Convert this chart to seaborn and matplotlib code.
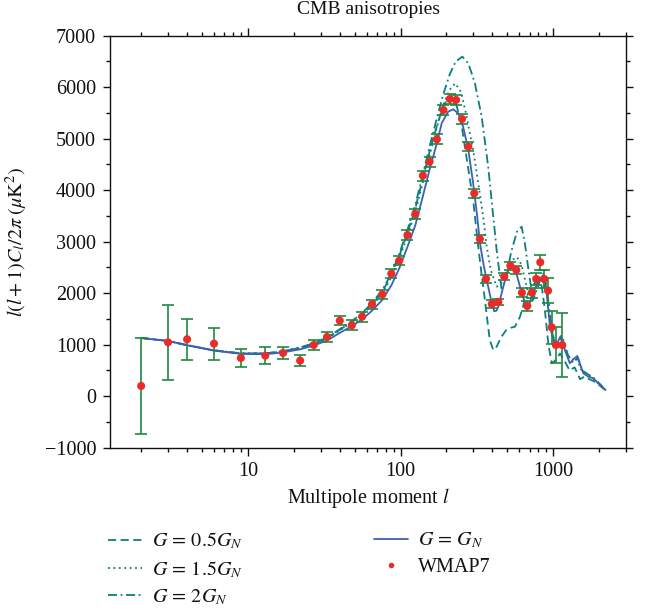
import numpy as np
import pandas as pd
import matplotlib
matplotlib.use("Agg")
import matplotlib.pyplot as plt
import seaborn as sns
from matplotlib.ticker import FixedLocator, FixedFormatter, NullFormatter, MultipleLocator, LogLocator
from matplotlib.lines import Line2D

# ---------------- data ----------------
# G = G_N (solid blue)
l_gn = [2, 3, 4, 6, 9, 13, 17, 22, 27, 33, 40, 48, 56, 65, 76, 87, 98, 111, 125, 140,
        155, 173, 186, 205, 221, 239, 257, 278, 299, 318, 331, 350, 367, 396, 411, 425,
        437, 471, 500, 521, 540, 562, 606, 653, 676, 700, 722, 780, 819, 861, 906, 953,
        1029, 1070, 1120, 1192, 1285, 1360, 1438, 1500, 1574, 1697, 1832, 2027, 2200]
cl_gn = [1130, 1072, 988, 884, 822, 815, 850, 910, 985, 1080, 1230, 1360, 1490, 1660, 1870,
         2150, 2480, 2900, 3320, 3880, 4400, 4911, 5299, 5524, 5571, 5493, 5233, 4781, 4134,
         3485, 2980, 2550, 2256, 1804, 1650, 1660, 1738, 2126, 2400, 2515, 2530, 2483, 2126,
         1804, 1738, 1800, 1932, 2159, 2256, 2223, 1998, 1350, 961, 1050, 1169, 897, 639,
         720, 781, 620, 445, 379, 348, 217, 120]

# G = 0.5 G_N (dashed)
l_half = [2, 3, 4, 6, 9, 13, 17, 22, 27, 33, 40, 48, 56, 65, 76, 87, 98, 111, 125, 140,
          155, 173, 190, 205, 215, 230, 250, 270, 285, 299, 320, 340, 357, 384, 405, 426,
          458, 493, 530, 562, 606, 653, 703, 758, 800, 840, 880, 930, 980, 1040, 1110,
          1180, 1280, 1380, 1500, 1600, 1720, 1850, 2050, 2200]
cl_half = [1130, 1072, 990, 890, 830, 830, 870, 940, 1020, 1130, 1290, 1440, 1590, 1790,
           2030, 2350, 2720, 3170, 3650, 4230, 4750, 5250, 5620, 5800, 5820, 5700, 5300,
           4650, 4200, 3810, 3000, 2350, 1868, 1091, 897, 961, 1155, 1285, 1330, 1350,
           1544, 1868, 2062, 2200, 2250, 2150, 1700, 1000, 640, 700, 830, 700, 500, 560,
           330, 380, 330, 290, 190, 120]

# G = 1.5 G_N (dotted)
l_15 = [2, 3, 4, 6, 9, 13, 17, 22, 27, 33, 40, 48, 56, 65, 76, 87, 98, 111, 125, 140,
        155, 173, 190, 210, 228, 250, 271, 299, 323, 348, 367, 390, 426, 458, 500, 540,
        580, 620, 680, 720, 780, 830, 870, 910, 960, 1010, 1060, 1130, 1200, 1300, 1420,
        1520, 1650, 1800, 2000, 2200]
cl_15 = [1130, 1072, 990, 888, 828, 828, 868, 935, 1015, 1120, 1280, 1430, 1575, 1770, 2000,
         2310, 2670, 3110, 3580, 4150, 4680, 5220, 5650, 5950, 6075, 5900, 5427, 4781, 4134,
         3485, 2900, 2450, 2126, 2200, 2450, 2650, 2700, 2550, 2050, 1900, 2150, 2350, 2380,
         2100, 1500, 1100, 1050, 1120, 900, 700, 740, 520, 430, 360, 230, 120]

# G = 2 G_N (dash-dot)
l_2 = [2, 3, 4, 6, 9, 13, 17, 22, 27, 33, 40, 48, 56, 65, 76, 87, 98, 111, 125, 140,
       155, 173, 190, 210, 230, 254, 278, 307, 340, 375, 405, 426, 458, 490, 530, 580, 621,
       650, 684, 737, 790, 840, 880, 930, 980, 1040, 1100, 1160, 1250, 1350, 1450, 1550,
       1700, 1850, 2050, 2200]
cl_2 = [1130, 1072, 992, 892, 832, 832, 872, 945, 1030, 1140, 1300, 1460, 1610, 1810, 2060,
        2380, 2760, 3230, 3720, 4300, 4850, 5400, 5850, 6250, 6500, 6593, 6464, 6075, 5427,
        4457, 3485, 2839, 2095, 2250, 2800, 3200, 3291, 3000, 2515, 1868, 2100, 2350, 2300,
        1800, 1250, 950, 1000, 1100, 800, 650, 750, 500, 420, 350, 220, 120]

# WMAP7 binned data
l_wmap = [2, 3, 4, 6, 9, 13, 17, 22, 27, 33, 40, 48, 56, 65, 76, 87, 98, 111, 125, 140,
          155, 173, 191, 210, 231, 253, 278, 304, 331, 363, 396, 437, 478, 524, 573, 624,
          676, 726, 774, 823, 874, 925, 977, 1041, 1145]
cl_wmap = [198, 1046, 1105, 1020, 742, 787, 839, 690, 994, 1150, 1466, 1376, 1544, 1784,
           1978, 2379, 2631, 3130, 3538, 4282, 4554, 4988, 5557, 5771, 5752, 5382, 4845,
           3940, 3052, 2279, 1790, 1829, 2320, 2534, 2450, 2010, 1751, 2010, 2276, 2600,
           2276, 2049, 1338, 994, 994]
err_wmap = [935, 728, 395, 308, 175, 168, 116, 113, 97, 97, 88, 95, 97, 90, 90, 90, 90, 97,
            97, 97, 97, 97, 97, 97, 97, 97, 90, 90, 85, 80, 70, 65, 70, 75, 80, 85, 90, 100,
            120, 145, 168, 249, 317, 350, 615]

labels = ["$G\\,=\\,0.5G_N$", "$G\\,=\\,1.5G_N$", "$G\\,=\\,2G_N$", "$G\\,=\\,G_N$", "WMAP7"]

# ---------------- style ----------------
sns.set_style("ticks")
plt.rcParams['font.family'] = ['Liberation Serif', 'DejaVu Serif']
plt.rcParams['mathtext.fontset'] = 'stix'
plt.rcParams['axes.unicode_minus'] = True

TEAL = "#0a7f7c"
BLUE = "#3f5fb4"
RED = "#ec2a2a"
GREEN = "#1c8a40"
INK = "#111111"

fig = plt.figure(figsize=(6.46, 6.11), dpi=100)
ax = fig.add_axes([0.1703, 0.2673, 0.7988, 0.6743])

ls_half = (0, (4.5, 2.5))
ls_15 = (0, (1, 2))
ls_2 = (0, (5, 2, 1, 2))

sns.lineplot(x=l_half, y=cl_half, ax=ax, color=TEAL, linestyle=ls_half, lw=1.3,
             estimator=None, zorder=2)
sns.lineplot(x=l_15, y=cl_15, ax=ax, color=TEAL, linestyle=ls_15, lw=1.3,
             estimator=None, zorder=2)
sns.lineplot(x=l_2, y=cl_2, ax=ax, color=TEAL, linestyle=ls_2, lw=1.3,
             estimator=None, zorder=2)
sns.lineplot(x=l_gn, y=cl_gn, ax=ax, color=BLUE, linestyle='-', lw=1.3,
             estimator=None, zorder=3)

ax.errorbar(l_wmap, cl_wmap, yerr=err_wmap, fmt='none', ecolor=GREEN, elinewidth=1.2,
            capsize=4, capthick=1.2, zorder=4)
sns.scatterplot(x=l_wmap, y=cl_wmap, ax=ax, color=RED, s=34, edgecolor='none',
                linewidth=0, zorder=5)

ax.set_xscale('log')
ax.set_xlim(1.25, 3000)
ax.set_ylim(-1000, 7000)

ax.xaxis.set_major_locator(FixedLocator([10, 100, 1000]))
ax.xaxis.set_major_formatter(FixedFormatter(['10', '100', '1000']))
ax.xaxis.set_minor_locator(LogLocator(base=10, subs=np.arange(2, 10)))
ax.xaxis.set_minor_formatter(NullFormatter())
ax.yaxis.set_major_locator(MultipleLocator(1000))
ax.yaxis.set_minor_locator(MultipleLocator(500))

ax.tick_params(which='both', direction='out', top=True, right=True,
               labeltop=False, labelright=False, colors=INK, width=1.0)
ax.tick_params(axis='x', which='major', length=6, pad=4, labelsize=14.5)
ax.tick_params(axis='x', which='minor', length=3)
ax.tick_params(axis='y', which='major', length=5, pad=5, labelsize=14.5)
ax.tick_params(axis='y', which='minor', length=3)
for s in ax.spines.values():
    s.set_linewidth(1.0)
    s.set_color(INK)

ax.set_xlabel("Multipole moment $l$", fontsize=14.5, color=INK)
ax.xaxis.set_label_coords(0.5, -0.093)
ax.set_ylabel("$l(l+1)C_l/2\\pi\\;(\\mu\\mathrm{K}^2)$", fontsize=14.5, color=INK)
ax.yaxis.set_label_coords(-0.155, 0.5)

fig.text(0.5697, 1 - 10 / 611, "CMB anisotropies", ha='center', va='center',
         fontsize=14, color=INK)

# legend
h_half = Line2D([], [], color=TEAL, linestyle=ls_half, lw=1.3)
h_15 = Line2D([], [], color=TEAL, linestyle=ls_15, lw=1.3)
h_2 = Line2D([], [], color=TEAL, linestyle=ls_2, lw=1.3)
h_gn = Line2D([], [], color=BLUE, linestyle='-', lw=1.3)
h_w = Line2D([], [], color=RED, marker='o', linestyle='none', markersize=4, markeredgewidth=0)

leg1 = fig.legend([h_half, h_15, h_2], labels[:3], loc='upper left',
                  bbox_to_anchor=(108 / 646, 1 - 531 / 611), frameon=False, fontsize=14.5,
                  handlelength=1.7, handletextpad=0.5, labelspacing=0.38, borderpad=0,
                  borderaxespad=0, labelcolor=INK)
leg2 = fig.legend([h_gn, h_w], labels[3:], loc='upper left',
                  bbox_to_anchor=(374 / 646, 1 - 531 / 611), frameon=False, fontsize=14.5,
                  handlelength=1.7, handletextpad=0.5, labelspacing=0.38, borderpad=0,
                  borderaxespad=0, labelcolor=INK)

fig.savefig("out.png", dpi=100)
